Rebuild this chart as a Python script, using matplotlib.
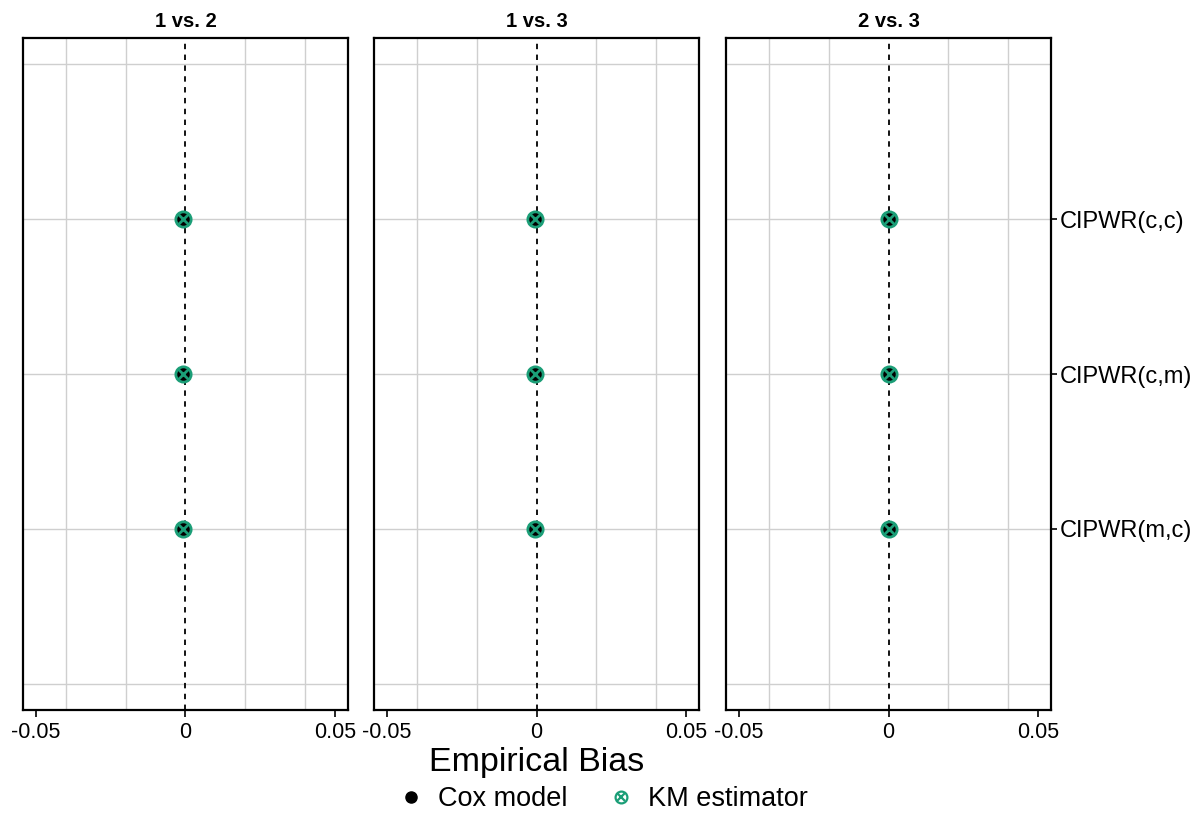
import matplotlib
matplotlib.use('Agg')
import matplotlib.pyplot as plt
from matplotlib.ticker import FixedLocator
from matplotlib.lines import Line2D

plt.rcParams['font.family'] = ['Liberation Sans', 'DejaVu Sans']

COMPARACOES = ['1 vs. 2', '1 vs. 3', '2 vs. 3']
METODOS = ['CIPWR(c,c)', 'CIPWR(c,m)', 'CIPWR(m,c)']
# vies empirico por comparacao (linhas) e metodo (colunas)
COX_BIAS = [
    [-0.0009, -0.0008, -0.0009],
    [-0.0006, -0.0005, -0.0006],
    [0.0003, 0.0003, 0.0002],
]
KM_BIAS = [
    [-0.0009, -0.0008, -0.0009],
    [-0.0006, -0.0005, -0.0006],
    [0.0003, 0.0003, 0.0002],
]
X_TICKS = [-0.05, 0, 0.05]
X_TICK_LABELS = ['-0.05', '0', '0.05']
X_GRID = [-0.04, -0.02, 0.02, 0.04]

VERDE = '#1b9e77'
GRADE = '#cfcfcf'

fig = plt.figure(figsize=(11.95, 8.14), dpi=100)
lefts = [23, 374, 726]
largura = 325 / 1195
base = 1 - 710 / 814
altura = 672 / 814

posicoes = list(range(1, len(METODOS) + 1))

for i, comp in enumerate(COMPARACOES):
    ax = fig.add_axes([lefts[i] / 1195, base, largura, altura])
    ax.set_xlim(-0.0543, 0.0543)
    ax.set_ylim(len(METODOS) + 1.17, -0.17)

    ax.xaxis.set_minor_locator(FixedLocator(X_GRID))
    ax.yaxis.set_minor_locator(FixedLocator([0, len(METODOS) + 1]))
    ax.set_xticks(X_TICKS)
    ax.set_xticklabels(X_TICK_LABELS)
    ax.set_yticks(posicoes)
    ax.grid(which='minor', color=GRADE, linewidth=1)
    ax.grid(which='major', axis='y', color=GRADE, linewidth=1)
    ax.set_axisbelow(True)
    ax.tick_params(which='minor', length=0)
    ax.tick_params(axis='x', which='major', length=5, width=1.2, labelsize=15.5, pad=4)

    if i == len(COMPARACOES) - 1:
        ax.yaxis.tick_right()
        ax.set_yticklabels(METODOS)
        ax.tick_params(axis='y', which='major', length=4, width=1.2, labelsize=17, pad=2)
    else:
        ax.tick_params(axis='y', which='major', length=0, labelleft=False)

    for s in ax.spines.values():
        s.set_linewidth(1.6)

    ax.axvline(0, color='black', linestyle=(0, (3, 3)), linewidth=1.3, zorder=2)

    ax.plot(COX_BIAS[i], posicoes, 'o', color='black', markersize=10, linestyle='none', zorder=3)
    ax.plot(KM_BIAS[i], posicoes, 'o', markerfacecolor='none', markeredgecolor=VERDE,
            markeredgewidth=2, markersize=11, linestyle='none', zorder=4)
    ax.plot(KM_BIAS[i], posicoes, 'x', color=VERDE, markeredgewidth=2,
            markersize=7.5, linestyle='none', zorder=4)

    ax.set_title(comp, fontsize=14.5, fontweight='bold', pad=8)

fig.text(537 / 1195, 1 - 763 / 814, 'Empirical Bias', fontsize=24.5, ha='center', va='center')

h_cox = Line2D([], [], marker='o', color='black', markersize=8, linestyle='none')
h_km_c = Line2D([], [], marker='o', markerfacecolor='none', markeredgecolor=VERDE,
                markeredgewidth=1.6, markersize=8.5, linestyle='none')
h_km_x = Line2D([], [], marker='x', color=VERDE, markeredgewidth=1.6, markersize=6, linestyle='none')
fig.legend([h_cox, (h_km_c, h_km_x)], ['Cox model', 'KM estimator'],
           loc='center', bbox_to_anchor=(604 / 1195, 1 - 799 / 814), ncol=2,
           frameon=False, fontsize=19.5, handlelength=0.8, handletextpad=0.6,
           columnspacing=1.6, borderaxespad=0)

fig.savefig('out.png', dpi=100)
